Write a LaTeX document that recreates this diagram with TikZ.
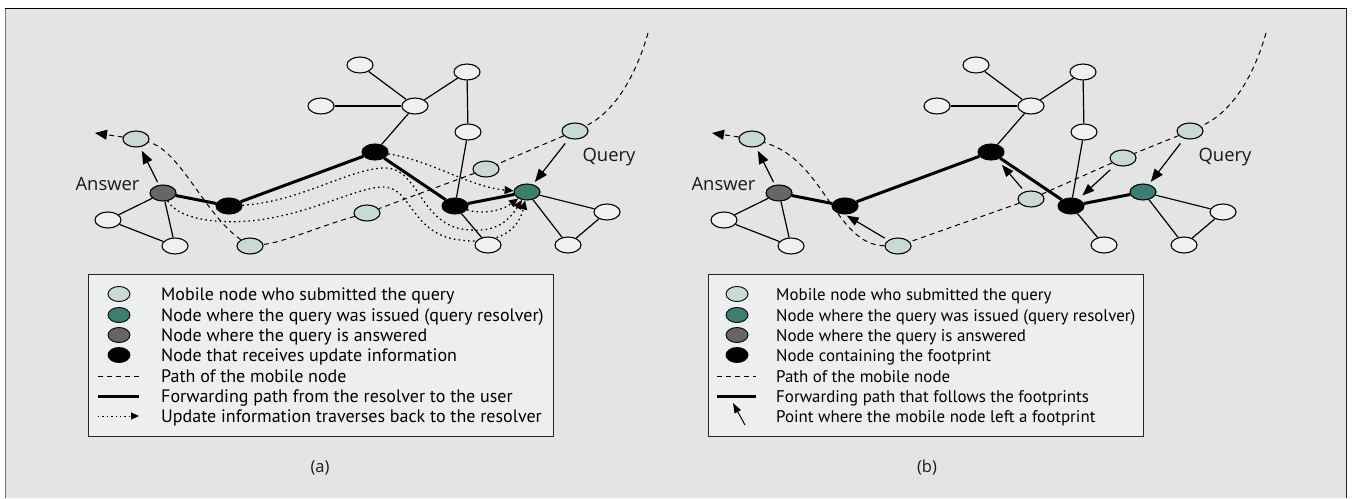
\documentclass[tikz,border=0pt]{standalone}
\usepackage{fontspec}
\setmainfont{Open Sans}
\newfontfamily\legfont{PT Sans}
\usetikzlibrary{shapes.geometric,arrows.meta}
\definecolor{bggray}{HTML}{E4E4E4}
\definecolor{nodewhite}{HTML}{EEF1EF}
\definecolor{mobile}{HTML}{C8DAD5}
\definecolor{resolver}{HTML}{3B7F70}
\definecolor{answered}{HTML}{666666}
\definecolor{legendbg}{HTML}{EDEFEE}
\pgfdeclarelayer{back}
\pgfsetlayers{back,main}
\tikzset{
  nd/.style={ellipse, draw=black, line width=1.1pt, minimum width=26pt, minimum height=16pt, inner sep=0pt},
  wn/.style={nd, fill=nodewhite},
  mn/.style={nd, fill=mobile},
  tn/.style={nd, fill=resolver},
  gn/.style={nd, fill=answered},
  bn/.style={nd, fill=black},
  lsym/.style={nd, line width=0.9pt, minimum width=22pt, minimum height=15pt},
  edge/.style={line width=1.2pt},
  fwd/.style={line width=3pt},
  mpath/.style={line width=1pt, dash pattern=on 5pt off 4pt},
  upd/.style={line width=1.3pt, dash pattern=on 1.6pt off 3.2pt, -{Triangle[length=9pt,width=8pt]}},
  big/.style={line width=1.2pt, -{Triangle[length=13pt,width=10pt]}},
  fp/.style={line width=1.2pt, -{Triangle[length=12pt,width=9pt]}},
  lab/.style={font=\fontsize{18.4pt}{22pt}\selectfont, inner sep=0pt, text=black!90, anchor=base},
  captxt/.style={font=\fontsize{16.5pt}{20pt}\selectfont, inner sep=0pt, text=black!90},
  ltxta/.style={font=\legfont\fontsize{18pt}{20pt}\selectfont, inner sep=0pt, text=black, anchor=base west},
  ltxtb/.style={font=\legfont\fontsize{16.9pt}{20pt}\selectfont, inner sep=0pt, text=black, anchor=base west},
  lbox/.style={draw=black!85, line width=1pt, fill=legendbg},
}
\newcommand{\mynet}[1]{%
  \node[wn] (#1w1) at (360,65) {};
  \node[wn] (#1w2) at (321,106) {};
  \node[wn] (#1w3) at (415,106) {};
  \node[wn] (#1w4) at (467,72) {};
  \node[wn] (#1w5) at (468,132) {};
  \node[wn] (#1w6) at (108,220) {};
  \node[wn] (#1w7) at (175,246) {};
  \node[wn] (#1w8) at (488,245) {};
  \node[wn] (#1w9) at (607,212) {};
  \node[wn] (#1w10) at (568,245) {};
  \node[gn] (#1g) at (163,193) {};
  \node[bn] (#1b1) at (229,206) {};
  \node[bn] (#1b2) at (375,152) {};
  \node[bn] (#1b3) at (455,206) {};
  \node[tn] (#1t) at (527,192) {};
}
\newcommand{\mynetedges}[1]{%
  \draw[edge] (#1w1) -- (#1w3);
  \draw[edge] (#1w2) -- (#1w3);
  \draw[edge] (#1w4) -- (#1w3);
  \draw[edge] (#1w4) -- (#1w5);
  \draw[edge] (#1w3) -- (#1b2);
  \draw[edge] (#1w5) -- (#1b3);
  \draw[edge] (#1b3) -- (#1w8);
  \draw[edge] (#1t) -- (#1w9);
  \draw[edge] (#1t) -- (#1w10);
  \draw[edge] (#1w9) -- (#1w10);
  \draw[edge] (#1g) -- (#1w6);
  \draw[edge] (#1g) -- (#1w7);
  \draw[edge] (#1w6) -- (#1w7);
  \draw[fwd] (#1g) -- (#1b1) -- (#1b2) -- (#1b3) -- (#1t);
}
\begin{document}
\begin{tikzpicture}[x=1pt,y=-1pt]
\useasboundingbox (0,0) rectangle (1352,498);
% ---------------- panel (a) ----------------
\mynet{a}
\node[mn] (am1) at (136,139) {};
\node[mn] (am2) at (250,246) {};
\node[mn] (am3) at (367,213) {};
\node[mn] (am4) at (486,169) {};
\node[mn] (am5) at (575,131) {};
% ---------------- panel (b) ----------------
\begin{scope}[xshift=616pt]
\mynet{b}
\end{scope}
\node[mn] (bm1) at (752,139) {};
\node[mn] (bm2) at (898,246) {};
\node[mn] (bm3) at (1031,199) {};
\node[mn] (bm4) at (1123,158) {};
\node[mn] (bm5) at (1190,131) {};
\coordinate (astart) at (648,33);
\coordinate (aend) at (95,133);
\coordinate (bstart) at (1266,33);
\coordinate (bend) at (712,133);
\begin{pgfonlayer}{back}
  \fill[bggray] (6,9) rectangle (1346,498);
  \draw[black, line width=1.6pt] (4.7,8.5) -- (1347.3,8.5);
  \draw[black!55, line width=1.6pt] (5.5,9) -- (5.5,498);
  \draw[black!85, line width=1.6pt] (1346.5,9) -- (1346.5,498);
  \mynetedges{a}
  \mynetedges{b}
  % mobile path (a)
  \draw[mpath] (astart) .. controls (636,75) and (615,112) .. (am5);
  \draw[mpath] (am5) -- (am4);
  \draw[mpath] (am4) -- (am3);
  \draw[mpath] (am3) .. controls (320,226) and (285,242) .. (am2);
  \draw[mpath] (am2) .. controls (205,215) and (180,150) .. (am1);
  \draw[mpath, -{Triangle[length=12pt,width=10pt]}] (am1) -- (aend);
  % update paths (a)
  \draw[upd] (ab2) .. controls (430,160) and (470,187) .. (at);
  \draw[upd] (ab1) .. controls (300,202) and (350,168) .. (385,168)
             .. controls (420,168) and (420,228) .. (470,230)
             .. controls (495,232) and (508,222) .. (at);
  \draw[upd] (ag) .. controls (180,222) and (230,225) .. (265,219)
             .. controls (320,210) and (360,186) .. (385,187)
             .. controls (412,189) and (412,235) .. (460,240)
             .. controls (495,245) and (518,232) .. (at);
  \draw[upd] (ab3) .. controls (480,214) and (500,212) .. (at);
  % mobile path (b)
  \draw[mpath] (bstart) .. controls (1254,75) and (1233,112) .. (bm5);
  \draw[mpath] (bm5) -- (bm4);
  \draw[mpath] (bm4) -- (bm3);
  \draw[mpath] (bm3) -- (bm2);
  \draw[mpath] (bm2) .. controls (835,245) and (825,160) .. (bm1);
  \draw[mpath, -{Triangle[length=12pt,width=10pt]}] (bm1) -- (bend);
\end{pgfonlayer}
% answer / query arrows
\draw[big, shorten <=3pt, shorten >=4pt] (ag) -- (am1);
\draw[big, shorten <=6pt, shorten >=3pt] (am5) -- (at);
\draw[big, shorten <=3pt, shorten >=4pt] (bg) -- (bm1);
\draw[big, shorten <=6pt, shorten >=3pt] (bm5) -- (bt);
% footprint arrows (b)
\draw[fp, shorten <=7pt, shorten >=5pt] (bm4) -- (bb3);
\draw[fp, shorten <=4pt, shorten >=7pt] (bm3) -- (bb2);
\draw[fp, shorten <=4pt, shorten >=2pt] (bm2) -- (bb1.south);
% labels
\node[lab] (ansa) at (107.5,190) {Answer};
\node[lab] (quea) at (609,161) {Query};
\node[lab] (ansb) at (723.5,190) {Answer};
\node[lab] (queb) at (1225,161) {Query};
% ---------------- legend (a) ----------------
\draw[lbox] (88,274) rectangle (553,436);
\node[lsym, fill=mobile] (la1) at (119,294) {};
\node[lsym, fill=resolver] (la2) at (119,315) {};
\node[lsym, fill=answered] (la3) at (119,335) {};
\node[lsym, fill=black] (la4) at (119,355) {};
\coordinate (la5s) at (98,376); \coordinate (la5e) at (139,376);
\coordinate (la6s) at (98,396); \coordinate (la6e) at (139,396);
\coordinate (la7s) at (98,416); \coordinate (la7e) at (139,416);
\draw[mpath] (la5s) -- (la5e);
\draw[fwd] (la6s) -- (la6e);
\draw[line width=1pt, dash pattern=on 1.4pt off 3pt, -{Triangle[length=8pt,width=7pt]}] (la7s) -- (la7e);
\node[ltxta] (ta1) at (161,300.5) {Mobile node who submitted the query};
\node[ltxta] (ta2) at (161,321) {Node where the query was issued (query resolver)};
\node[ltxta] (ta3) at (161,341) {Node where the query is answered};
\node[ltxta] (ta4) at (161,361.5) {Node that receives update information};
\node[ltxta] (ta5) at (161,382) {Path of the mobile node};
\node[ltxta] (ta6) at (161,402) {Forwarding path from the resolver to the user};
\node[ltxta] (ta7) at (161,422.5) {Update information traverses back to the resolver};
\node[captxt] (capa) at (320,468) {(a)};
% ---------------- legend (b) ----------------
\draw[lbox] (708,274) rectangle (1143,436);
\node[lsym, fill=mobile] (lb1) at (737,294) {};
\node[lsym, fill=resolver] (lb2) at (737,315) {};
\node[lsym, fill=answered] (lb3) at (737,335) {};
\node[lsym, fill=black] (lb4) at (737,355) {};
\coordinate (lb5s) at (717,376); \coordinate (lb5e) at (756,376);
\coordinate (lb6s) at (717,396); \coordinate (lb6e) at (756,396);
\coordinate (lb7s) at (745,425); \coordinate (lb7e) at (733,403);
\draw[mpath] (lb5s) -- (lb5e);
\draw[fwd] (lb6s) -- (lb6e);
\draw[line width=1pt, -{Triangle[length=10pt,width=7pt]}] (lb7s) -- (lb7e);
\node[ltxtb] (tb1) at (776,300.5) {Mobile node who submitted the query};
\node[ltxtb] (tb2) at (776,321) {Node where the query was issued (query resolver)};
\node[ltxtb] (tb3) at (776,341) {Node where the query is answered};
\node[ltxtb] (tb4) at (776,361.5) {Node containing the footprint};
\node[ltxtb] (tb5) at (776,382) {Path of the mobile node};
\node[ltxtb] (tb6) at (776,402) {Forwarding path that follows the footprints};
\node[ltxtb] (tb7) at (776,422.5) {Point where the mobile node left a footprint};
\node[captxt] (capb) at (927,468) {(b)};
\end{tikzpicture}
\end{document}
